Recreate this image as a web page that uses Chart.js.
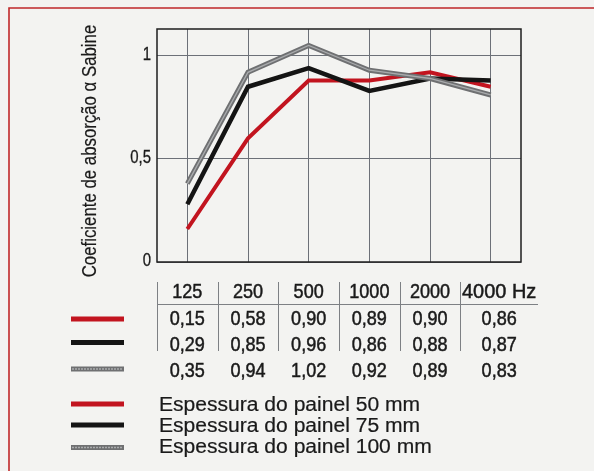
<!DOCTYPE html>
<html>
<head>
<meta charset="utf-8">
<script src="https://cdn.jsdelivr.net/npm/chart.js@4.4.1/dist/chart.umd.min.js"></script>
<style>
  html, body { margin: 0; padding: 0; background: #f3f3f1; }
  canvas { display: block; }
</style>
</head>
<body>
<canvas id="chart" width="594" height="471"></canvas>
<script>
// frequency bands (Hz)
const categories = ['125', '250', '500', '1000', '2000', '4000'];

// curves as drawn in the plot
const panel50 = [0.16, 0.60, 0.88, 0.88, 0.92, 0.85];
const panel75 = [0.28, 0.85, 0.94, 0.83, 0.89, 0.88];
const panel100 = [0.38, 0.92, 1.05, 0.93, 0.89, 0.81];

const yTicks = [0, 0.5, 1];

// table under the plot
const headerLabels = ['125', '250', '500', '1000', '2000', '4000 Hz'];
const table50 = ['0,15', '0,58', '0,90', '0,89', '0,90', '0,86'];
const table75 = ['0,29', '0,85', '0,96', '0,86', '0,88', '0,87'];
const table100 = ['0,35', '0,94', '1,02', '0,92', '0,89', '0,83'];

const legendLabels = [
  'Espessura do painel 50 mm',
  'Espessura do painel 75 mm',
  'Espessura do painel 100 mm'
];
const yTitle = 'Coeficiente de absorção \u03b1 Sabine';

const RED = '#c2141f';
const BLACK = '#141414';
const GREY = '#6f7072';
const GREY_LIGHT = '#a9abad';
const TEXT = '#1a1a1a';
const SANS = "'Liberation Sans', Arial, sans-serif";

// text squeezed or stretched horizontally (the print uses a condensed Helvetica)
function fillScaled(ctx, text, x, y, sx, weight) {
  ctx.save();
  ctx.translate(x, y);
  ctx.scale(sx, 1);
  ctx.fillText(text, 0, 0);
  if (weight) {
    ctx.strokeStyle = ctx.fillStyle;
    ctx.lineWidth = weight;
    ctx.strokeText(text, 0, 0);
  }
  ctx.restore();
}

// draw a sample stroke (legend / table keys)
function drawKey(ctx, x1, x2, y, color, striped) {
  ctx.save();
  ctx.lineCap = 'butt';
  ctx.strokeStyle = color;
  ctx.lineWidth = 5;
  ctx.beginPath();
  ctx.moveTo(x1, y);
  ctx.lineTo(x2, y);
  ctx.stroke();
  if (striped) {
    ctx.strokeStyle = GREY_LIGHT;
    ctx.lineWidth = 1.3;
    ctx.setLineDash([2, 1]);
    ctx.beginPath();
    ctx.moveTo(x1 + 1, y);
    ctx.lineTo(x2 - 1, y);
    ctx.stroke();
  }
  ctx.restore();
}

const pagePlugin = {
  id: 'page',
  beforeDraw(chart) {
    const ctx = chart.ctx;
    ctx.save();
    ctx.fillStyle = '#f3f3f1';
    ctx.fillRect(0, 0, chart.width, chart.height);
    // red frame, top and left
    ctx.strokeStyle = '#c0282a';
    ctx.lineWidth = 1.6;
    ctx.beginPath();
    ctx.moveTo(chart.width, 8);
    ctx.lineTo(9, 8);
    ctx.lineTo(9, chart.height);
    ctx.stroke();
    ctx.restore();
  },
  afterDatasetsDraw(chart) {
    const ctx = chart.ctx;
    // light centre stripe on the 100 mm curve
    const meta = chart.getDatasetMeta(0);
    ctx.save();
    ctx.strokeStyle = GREY_LIGHT;
    ctx.lineWidth = 1.3;
    ctx.lineJoin = 'miter';
    ctx.beginPath();
    meta.data.forEach((p, i) => {
      if (i === 0) ctx.moveTo(p.x, p.y); else ctx.lineTo(p.x, p.y);
    });
    ctx.stroke();

    // plot frame
    const a = chart.chartArea;
    ctx.strokeStyle = '#1e1e1e';
    ctx.lineWidth = 1.5;
    ctx.strokeRect(a.left, a.top, a.right - a.left, a.bottom - a.top);
    ctx.restore();
  },
  afterDraw(chart) {
    const ctx = chart.ctx;
    const a = chart.chartArea;
    const xs = chart.scales.x;
    const ys = chart.scales.y;
    const px = categories.map((c, i) => xs.getPixelForValue(i));
    const tableRight = a.right + 17;
    const bounds = [a.left];
    for (let i = 1; i < px.length; i++) bounds.push((px[i - 1] + px[i]) / 2);
    const centers = px.slice(0, -1);
    centers.push((bounds[bounds.length - 1] + tableRight) / 2);

    ctx.save();
    ctx.fillStyle = TEXT;

    // y tick labels
    ctx.font = '18px ' + SANS;
    ctx.textAlign = 'right';
    ctx.textBaseline = 'middle';
    ys.ticks.forEach(t => {
      fillScaled(ctx, String(t.value).replace('.', ','), a.left - 6, ys.getPixelForValue(t.value) - 1, 0.83, 0.3);
    });

    // y axis title
    ctx.font = '20px ' + SANS;
    ctx.textAlign = 'center';
    ctx.save();
    ctx.translate(90, 151);
    ctx.rotate(-Math.PI / 2);
    fillScaled(ctx, yTitle, 0, 0, 0.84, 0.2);
    ctx.restore();

    // table rules
    ctx.strokeStyle = '#7d8084';
    ctx.lineWidth = 1;
    bounds.forEach(b => {
      ctx.beginPath();
      ctx.moveTo(Math.round(b) + 0.5, 282);
      ctx.lineTo(Math.round(b) + 0.5, 351);
      ctx.stroke();
    });
    ctx.beginPath();
    ctx.moveTo(a.left, 304.5);
    ctx.lineTo(tableRight, 304.5);
    ctx.stroke();

    // table text
    ctx.font = '21px ' + SANS;
    ctx.textAlign = 'center';
    ctx.textBaseline = 'alphabetic';
    headerLabels.forEach((t, i) => fillScaled(ctx, t, centers[i], 298, i === 5 ? 0.95 : 0.86, 0.5));
    [table50, table75, table100].forEach((row, r) => {
      row.forEach((t, i) => fillScaled(ctx, t, centers[i], 324.5 + r * 26.3, 0.86, 0.5));
    });

    // row keys
    drawKey(ctx, 71, 124, 319, RED, false);
    drawKey(ctx, 71, 124, 342.5, BLACK, false);
    drawKey(ctx, 71, 124, 369, GREY, true);

    // legend
    const legendColors = [RED, BLACK, GREY];
    const keyY = [404, 425, 447.5];
    ctx.font = '19.5px ' + SANS;
    ctx.textAlign = 'left';
    legendLabels.forEach((t, i) => {
      drawKey(ctx, 71, 124, keyY[i], legendColors[i], i === 2);
      ctx.fillStyle = TEXT;
      fillScaled(ctx, t, 159, 411 + i * 20.9, 1.08, 0.2);
    });
    ctx.restore();
  }
};

new Chart(document.getElementById('chart'), {
  type: 'line',
  data: {
    labels: categories,
    datasets: [
      { label: legendLabels[2], data: panel100, borderColor: GREY, borderWidth: 5 },
      { label: legendLabels[1], data: panel75, borderColor: BLACK, borderWidth: 4.5 },
      { label: legendLabels[0], data: panel50, borderColor: RED, borderWidth: 4 }
    ]
  },
  options: {
    responsive: false,
    animation: false,
    events: [],
    layout: { padding: { left: 80, top: 29, right: 73, bottom: 209 } },
    elements: {
      line: { tension: 0, borderJoinStyle: 'miter', borderCapStyle: 'butt' },
      point: { radius: 0 }
    },
    scales: {
      x: {
        type: 'category',
        offset: true,
        grid: { offset: false, color: '#6c7078', lineWidth: 1, drawTicks: false },
        border: { display: false },
        ticks: { display: false },
        afterFit(scale) { scale.height = 0; }
      },
      y: {
        min: 0,
        max: 1.13,
        grid: { color: '#6c7078', lineWidth: 1, drawTicks: false },
        border: { display: false },
        afterBuildTicks(scale) { scale.ticks = yTicks.map(v => ({ value: v })); },
        afterFit(scale) { scale.width = 77; },
        ticks: { display: false }
      }
    },
    plugins: {
      legend: { display: false },
      tooltip: { enabled: false }
    }
  },
  plugins: [pagePlugin]
});
</script>
</body>
</html>
